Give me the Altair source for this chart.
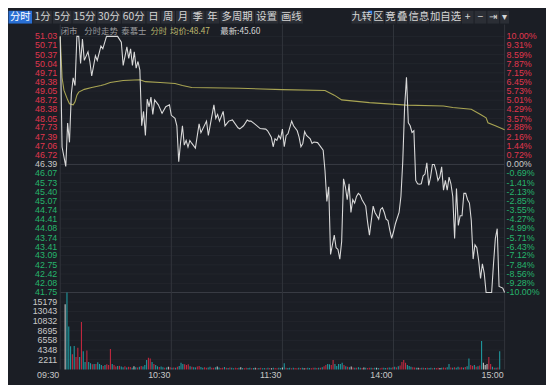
import altair as alt
import pandas as pd

# ------------------------------------------------------------------ data
PREV_CLOSE = 46.39
PRICE_TICKS = [51.03, 50.71, 50.37, 50.04, 49.71, 49.38, 49.05, 48.72, 48.38, 48.05,
               47.73, 47.39, 47.06, 46.72, 46.39, 46.07, 45.73, 45.40, 45.07, 44.74,
               44.41, 44.08, 43.74, 43.41, 43.09, 42.75, 42.42, 42.08, 41.75]
PCT_LABELS = ["10.00%", "9.31%", "8.59%", "7.87%", "7.15%", "6.45%", "5.73%", "5.01%",
              "4.29%", "3.57%", "2.88%", "2.16%", "1.44%", "0.72%", "0.00%", "-0.69%",
              "-1.41%", "-2.13%", "-2.85%", "-3.55%", "-4.27%", "-4.99%", "-5.71%",
              "-6.43%", "-7.12%", "-7.84%", "-8.56%", "-9.28%", "-10.00%"]
VOL_TICKS = [15179, 13043, 10832, 8695, 6558, 4348, 2211]
TIME_TICKS = [0, 60, 120, 180, 240]
TIME_LABELS = ["09:30", "10:30", "11:30", "14:00", "15:00"]

# price line vertices (minute index from 09:30, price)
PRICE_T = [0, 1, 3, 4, 5, 6, 7, 8, 9, 10, 11, 12, 13, 15, 16, 17, 18, 19, 20, 22, 23, 25, 31,
           33, 34, 36, 37, 38, 39, 40, 41, 42, 43, 44, 45, 46, 47, 48, 49, 50, 51, 53, 55, 57,
           59, 60, 62, 63, 64, 65, 66, 67, 68, 69, 70, 71, 73, 75, 76, 79, 80, 83, 84, 85, 86,
           88, 89, 91, 93, 96, 97, 99, 101, 102, 103, 105, 108, 111, 112, 114, 115, 116, 117,
           118, 119, 120,
           121, 122, 123, 125, 126, 128, 129, 130, 131, 132, 133, 135, 136, 137, 139, 140, 142,
           143, 144, 145, 146, 147, 148, 149, 150, 151, 152, 153, 154, 155, 156, 157, 158, 159,
           160, 161, 162, 163, 165, 166, 167, 169, 170, 171, 172, 173, 174, 175, 176, 177, 178,
           179, 180, 181, 183, 184, 185, 186, 187, 188, 189, 190, 191, 192, 193, 194, 195, 196,
           197, 198, 199, 200, 201, 202, 203, 204, 205, 206, 207, 208, 209, 210, 211, 212, 213,
           214, 215, 216, 217, 218, 219, 220, 221, 222, 223, 224, 225, 226, 227, 228, 229, 230,
           233, 234, 235, 236, 237, 239, 240]
PRICE_V = [51.03, 47.02, 46.32, 47.89, 47.19, 48.94, 49.53, 49.25, 51.03, 51.03, 50.05, 50.93,
           50.16, 50.47, 50.12, 49.60, 49.95, 50.33, 50.16, 50.68, 50.58, 51.03, 51.03,
           50.82, 49.98, 50.65, 50.23, 50.58, 49.98, 50.47, 49.88, 50.12, 49.81, 47.79, 48.31,
           47.44, 48.76, 48.48, 48.83, 48.20, 48.73, 48.55, 48.24, 48.48,
           48.55, 48.17, 48.06, 47.79, 46.49, 47.19, 47.79, 47.09, 47.26, 47.02, 47.26, 47.16,
           46.98, 47.86, 47.54, 47.96, 47.44, 48.55, 48.06, 48.20, 47.96,
           48.31, 47.79, 47.96, 48.00, 47.72, 47.68, 47.79, 48.00, 47.96, 47.96, 47.86, 47.69,
           47.67, 47.61, 47.38, 47.03, 47.32, 47.26,
           47.44, 47.32, 47.67,
           47.03, 47.44, 47.50, 47.96, 47.79, 47.61, 47.38, 47.03, 47.15, 47.58, 47.44, 47.32,
           47.15, 47.20, 47.18, 47.09, 46.91,
           46.16, 45.05, 45.58, 43.13, 43.48, 43.83, 43.37, 43.31, 42.96, 43.60, 45.87, 45.58,
           45.11, 45.69, 44.65, 45.11, 44.99,
           45.23, 45.34, 45.28, 45.11, 44.88, 44.30, 43.83, 44.88, 44.65, 44.53, 44.41, 44.76,
           44.82, 44.65, 44.41, 44.36, 44.01,
           43.71, 43.95, 44.24, 44.65, 45.23, 46.51, 48.48, 49.55, 47.90, 47.79, 47.55, 47.61,
           45.81, 45.69, 45.67, 45.69, 45.98,
           46.04, 46.45, 45.63, 45.93, 46.39, 46.39, 46.16, 45.81, 45.93, 46.30, 45.46, 45.81,
           45.46, 45.93, 45.69, 45.23, 43.71,
           45.52, 44.18, 44.53, 44.53, 45.34, 45.34, 45.11, 44.99, 44.36, 42.96, 43.48, 43.37,
           42.90, 42.26, 42.79, 42.44, 41.75,
           41.75, 42.79, 43.71, 44.06, 41.97, 41.91, 41.75]

# average price line vertices
AVG_T = [0, 1, 2, 4, 5, 7, 8, 9, 10, 13, 17, 22, 24, 27, 34, 43, 46, 54, 62, 66, 71, 97, 120,
         143, 148, 152, 167, 187, 207, 212, 222, 227, 230, 231, 235, 240]
AVG_V = [51.03, 49.53, 49.08, 48.73, 48.59, 48.55, 48.66, 48.90, 49.01, 49.11, 49.18, 49.25,
         49.29, 49.36, 49.43, 49.46, 49.39, 49.36, 49.32, 49.25, 49.18, 49.15, 49.10,
         49.07, 48.90, 48.73, 48.63, 48.54, 48.51, 48.45, 48.39, 48.20, 48.08, 47.90, 47.79,
         47.65]

# per-minute volume, 09:30 .. 15:00 (241 bars)
VOLUME = [14690, 17350, 9650, 5200, 3400, 5300, 2800, 4900, 2800, 10700,
          4100, 1700, 4250, 1700, 1400, 1150, 1200, 1200, 1600, 1200,
          1000, 800, 1000, 1150, 1000, 4600, 1200, 1000, 650, 800,
          800, 650, 500, 700, 450, 600, 550, 400, 700, 500,
          450, 600, 800, 650, 1000, 2100, 2650, 2450, 1700, 1200,
          1000, 700, 550, 650, 500, 400, 450, 600, 500, 350,
          450, 400, 600, 800, 1500, 1200, 1150, 1000, 1150, 700,
          600, 500, 450, 650, 800, 550, 400, 500, 350, 450,
          600, 400, 350, 500, 650, 450, 300, 400, 550, 350,
          300, 450, 350, 250, 400, 300, 350, 500, 300, 250,
          350, 300, 400, 250, 300, 350, 250, 300, 400, 250,
          300, 250, 350, 300, 250, 400, 300, 250, 350, 300,
          450, 1370, 400, 300, 350, 250, 400, 300, 250, 350,
          300, 400, 250, 300, 350, 300, 250, 400, 350, 300,
          400, 350, 500, 700, 1000, 1200, 1150, 1000, 2100, 1200,
          800, 1200, 1200, 1500, 1000, 700, 600, 500, 650, 450,
          400, 350, 500, 400, 300, 450, 350, 300, 400, 350,
          300, 400, 350, 300, 250, 350, 400, 300, 350, 450,
          400, 500, 600, 450, 700, 900, 1700, 2100, 1500, 1000,
          800, 600, 500, 450, 350, 400, 300, 350, 400, 300,
          350, 300, 400, 250, 350, 300, 400, 300, 350, 450,
          400, 500, 1200, 450, 350, 500, 400, 600, 450, 500,
          400, 550, 700, 2450, 1000, 800, 1000, 600, 700, 900,
          6400, 1500, 1000, 1200, 2800, 1200, 600, 400, 350, 450,
          4100]
# u = up (red), d = down (teal), f = flat (grey)
VOL_DIR = ("fddduduudu" "dduddududd" "duduuuduud" "udduduudfd" "ududdduudu"
           "dduddudfud" "ududdduuud" "udduudduud" "duudfduudu" "dudduudfdu"
           "uddudfudud" "dudufduudd" "fdudduduud" "udfudduudu" "duduudduud"
           "ddddududfu" "duddufduud" "udfduuddud" "dududuuuud" "dduudfudud"
           "udduduufdu" "uddududduu" "dudduududu" "dfffuududu" "d")

TOOLBAR_LEFT = ["分时", "1分", "5分", "15分", "30分", "60分", "日", "周", "月", "季", "年",
                "多周期", "设置", "画线"]
TOOLBAR_RIGHT = ["九转", "区", "竞", "叠", "信息", "加自选", "+", "−", "⇥", "▾"]
INFO_TEXTS = ["闭市", "分时走势", "泰慕士", "分时", "均价:48.47", "最新:45.60"]

# ------------------------------------------------------------------ style / layout
BG = "#1b1e25"
BTN_BG = "#2b2e35"
ACTIVE_BG = "#2a6fd3"
TB_TXT = "#d6d6d6"
RED = "#e0364e"
GREEN = "#26b46c"
LBL_GREY = "#c8c8c8"
GRID = "#23262d"
GRID_STRONG = "#3a3d45"
VGRID = "#32353c"
PRICE_COL = "#d9d9d9"
AVG_COL = "#a9a553"
BAR_COLS = {"u": "#c3283f", "d": "#1f9aa0", "f": "#c4c4c4"}
INFO_COLS = ["#9a9b9e", "#9a9b9e", "#9a9b9e", "#b5b16a", "#bdb86e", "#d6d6d6"]
INFO_X = [0.5, 24.5, 62, 91.5, 111.5, 162.5]

CJK = "Noto Sans CJK SC"
NUM = "Liberation Sans"

CW, CH = 546, 377
PAD = {"left": 53, "top": 14, "right": 42, "bottom": 13}
PW = CW - PAD["left"] - PAD["right"]      # 451
PH = CH - PAD["top"] - PAD["bottom"]      # 350
Y_P_TOP, Y_P_BOT = 12.0, 271.9            # pixel rows of 51.03 / 41.75
Y_V_BASE, Y_V_TOP = 350.0, 281.6          # pixel rows of 0 / 15179

def xs():
    return alt.Scale(domain=[0, 240], range=[0, PW], nice=False, zero=False)

def ps():
    return alt.Scale(domain=[PRICE_TICKS[-1], PRICE_TICKS[0]], range=[Y_P_BOT, Y_P_TOP],
                     nice=False, zero=False)

def vs():
    return alt.Scale(domain=[0, VOL_TICKS[0]], range=[Y_V_BASE, Y_V_TOP], nice=False, zero=False)

def tbs():
    # toolbar pixel layout (chart coordinates) -> plot coordinates
    return alt.Scale(domain=[0, 100], range=[-PAD["left"], 100 - PAD["left"]],
                     nice=False, zero=False)

def text_w(s, pad):
    w = 0.0
    for ch in s:
        if ch.isdigit():
            w += 5.0
        elif ch == "▾":
            w += 8.0
        elif ord(ch) >= 0x2E80:
            w += 10.0
        else:
            w += 11.0
    return w + pad

rows = []
x = 0.0
for i, lab in enumerate(TOOLBAR_LEFT):
    w = text_w(lab, 5)
    rows.append({"label": lab, "x0": x + 0.5, "x1": x + w - 0.5, "xc": x + w / 2,
                 "fill": ACTIVE_BG if i == 0 else BTN_BG,
                 "tc": "#ffffff" if i == 0 else TB_TXT})
    x += w
x = 348.0
for lab in TOOLBAR_RIGHT:
    w = text_w(lab, 2)
    rows.append({"label": lab, "x0": x + 0.5, "x1": x + w - 0.5, "xc": x + w / 2,
                 "fill": BTN_BG, "tc": TB_TXT})
    x += w
tb = pd.DataFrame(rows)
badge_x = [r["x1"] - 2 for r in rows if r["label"] == "九转"][0]

def lbl_col(v):
    if abs(v - PREV_CLOSE) < 1e-6:
        return LBL_GREY
    return RED if v > PREV_CLOSE else GREEN

ticks = pd.DataFrame({
    "p": PRICE_TICKS,
    "plab": [f"{v:.2f}" for v in PRICE_TICKS],
    "pct": PCT_LABELS,
    "col": [lbl_col(v) for v in PRICE_TICKS],
    "gcol": [GRID_STRONG if (abs(v - PREV_CLOSE) < 1e-6 or v == PRICE_TICKS[-1]) else GRID
             for v in PRICE_TICKS],
})
vticks = pd.DataFrame({"v": VOL_TICKS, "lab": [str(v) for v in VOL_TICKS]})
tticks = pd.DataFrame({"t": TIME_TICKS, "lab": TIME_LABELS})
price_df = pd.DataFrame({"t": PRICE_T, "p": PRICE_V})
avg_df = pd.DataFrame({"t": AVG_T, "p": AVG_V})
vol_df = pd.DataFrame({"t": list(range(len(VOLUME))), "v": VOLUME,
                       "c": [BAR_COLS[VOL_DIR[i]] for i in range(len(VOLUME))]})
one = pd.DataFrame({"k": [0]})

layers = []

# horizontal grid (price rows)
layers.append(alt.Chart(ticks).mark_rule(strokeWidth=1).encode(
    y=alt.Y("p:Q", scale=ps(), axis=None),
    x=alt.value(0), x2=alt.value(PW),
    color=alt.Color("gcol:N", scale=None)))
# horizontal grid (volume rows)
layers.append(alt.Chart(vticks).mark_rule(strokeWidth=1, color=GRID).encode(
    y=alt.Y("v:Q", scale=vs(), axis=None),
    x=alt.value(0), x2=alt.value(PW)))
# vertical grid
layers.append(alt.Chart(tticks).mark_rule(strokeWidth=1, color=VGRID).encode(
    x=alt.X("t:Q", scale=xs(), axis=None),
    y=alt.value(0), y2=alt.value(PH)))

# volume bars
layers.append(alt.Chart(vol_df).mark_bar(size=1.1).encode(
    x=alt.X("t:Q", scale=xs(), axis=None),
    y=alt.Y("v:Q", scale=vs(), axis=None),
    color=alt.Color("c:N", scale=None)))

# average and price lines
layers.append(alt.Chart(avg_df).mark_line(color=AVG_COL, strokeWidth=1.1).encode(
    x=alt.X("t:Q", scale=xs(), axis=None),
    y=alt.Y("p:Q", scale=ps(), axis=None)))
layers.append(alt.Chart(price_df).mark_line(color=PRICE_COL, strokeWidth=1.1).encode(
    x=alt.X("t:Q", scale=xs(), axis=None),
    y=alt.Y("p:Q", scale=ps(), axis=None)))

# left price labels
layers.append(alt.Chart(ticks).mark_text(align="right", baseline="middle", fontSize=9,
                                         font=NUM).encode(
    y=alt.Y("p:Q", scale=ps(), axis=None), x=alt.value(-3),
    text="plab:N", color=alt.Color("col:N", scale=None)))
# right percentage labels
layers.append(alt.Chart(ticks).mark_text(align="left", baseline="middle", fontSize=9,
                                         font=NUM).encode(
    y=alt.Y("p:Q", scale=ps(), axis=None), x=alt.value(PW + 2),
    text="pct:N", color=alt.Color("col:N", scale=None)))
# volume labels
layers.append(alt.Chart(vticks).mark_text(align="right", baseline="middle", fontSize=9,
                                          font=NUM, color=LBL_GREY).encode(
    y=alt.Y("v:Q", scale=vs(), axis=None), x=alt.value(-3), text="lab:N"))
# time labels
layers.append(alt.Chart(tticks).mark_text(align="right", baseline="middle", fontSize=9,
                                          font=NUM, color=LBL_GREY, dx=-1).encode(
    x=alt.X("t:Q", scale=xs(), axis=None), y=alt.value(PH + 5.5), text="lab:N"))

# toolbar
layers.append(alt.Chart(tb).mark_rect().encode(
    x=alt.X("x0:Q", scale=tbs(), axis=None), x2="x1:Q",
    y=alt.value(-PAD["top"]), y2=alt.value(-1),
    color=alt.Color("fill:N", scale=None)))
layers.append(alt.Chart(tb).mark_text(fontSize=10.5, font=CJK, baseline="middle").encode(
    x=alt.X("xc:Q", scale=tbs(), axis=None), y=alt.value(-7.5),
    text="label:N", color=alt.Color("tc:N", scale=None)))
layers.append(alt.Chart(one).mark_point(shape="M-1,-1L1,-1L1,1Z", filled=True, size=18,
                                        color="#3d8af7", opacity=1).encode(
    x=alt.value(badge_x - PAD["left"]), y=alt.value(-PAD["top"] + 2)))

# info row
for txt, xx, col in zip(INFO_TEXTS, INFO_X, INFO_COLS):
    layers.append(alt.Chart(one).mark_text(align="left", baseline="middle", fontSize=8.5,
                                           font=CJK, color=col, text=txt).encode(
        x=alt.value(xx), y=alt.value(6.5)))

chart = alt.layer(*layers).resolve_scale(
    x="independent", y="independent"
).properties(
    width=PW, height=PH, padding=PAD,
    autosize=alt.AutoSizeParams(type="none"),
    background=BG,
).configure_view(strokeWidth=0)

chart.save("out.html", embed_options={"renderer": "svg", "actions": False})
